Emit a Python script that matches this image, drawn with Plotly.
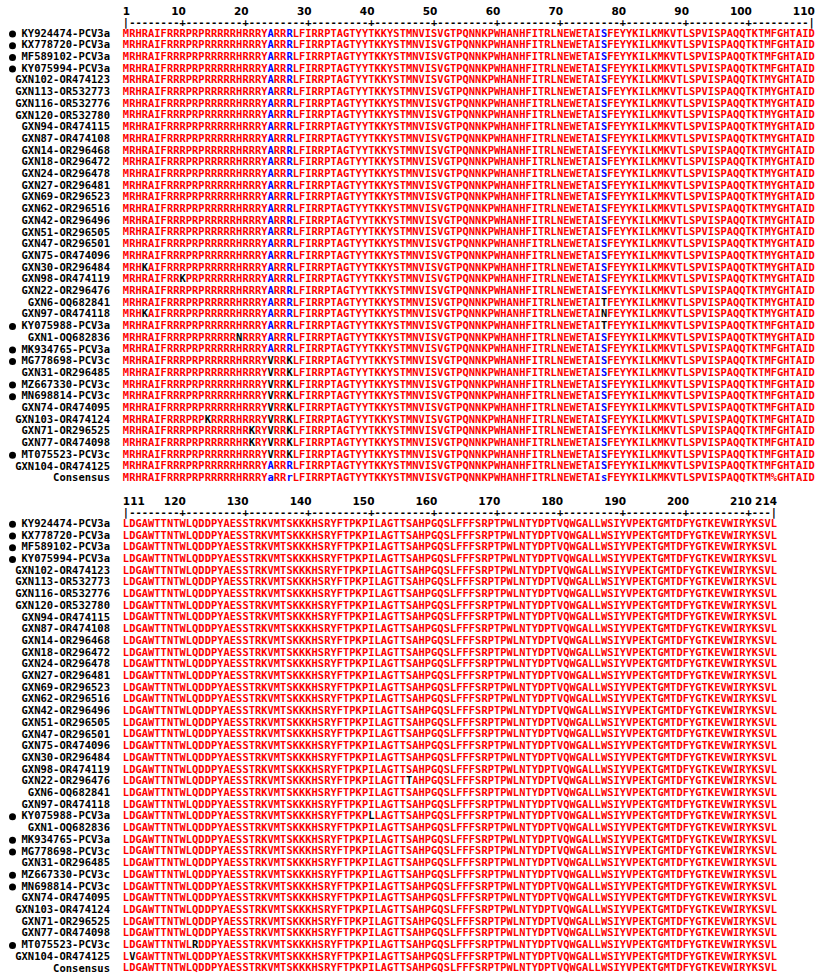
import plotly.graph_objects as go

# ---- alignment data -------------------------------------------------------
STRAINS = [
    "KY924474-PCV3a", "KX778720-PCV3a", "MF589102-PCV3a", "KY075994-PCV3a",
    "GXN102-OR474123", "GXN113-OR532773", "GXN116-OR532776", "GXN120-OR532780",
    "GXN94-OR474115", "GXN87-OR474108", "GXN14-OR296468", "GXN18-OR296472",
    "GXN24-OR296478", "GXN27-OR296481", "GXN69-OR296523", "GXN62-OR296516",
    "GXN42-OR296496", "GXN51-OR296505", "GXN47-OR296501", "GXN75-OR474096",
    "GXN30-OR296484", "GXN98-OR474119", "GXN22-OR296476", "GXN6-OQ682841",
    "GXN97-OR474118", "KY075988-PCV3a", "GXN1-OQ682836", "MK934765-PCV3a",
    "MG778698-PCV3c", "GXN31-OR296485", "MZ667330-PCV3c", "MN698814-PCV3c",
    "GXN74-OR474095", "GXN103-OR474124", "GXN71-OR296525", "GXN77-OR474098",
    "MT075523-PCV3c", "GXN104-OR474125",
]

# GenBank reference strains are flagged with a bullet
REFERENCE_STRAINS = [
    "KY924474-PCV3a", "KX778720-PCV3a", "MF589102-PCV3a", "KY075994-PCV3a",
    "KY075988-PCV3a", "MK934765-PCV3a", "MG778698-PCV3c", "MZ667330-PCV3c",
    "MN698814-PCV3c", "MT075523-PCV3c",
]

# consensus line (lowercase = low consensus, % = F or Y)
CONSENSUS_1_110 = ("MRHRAIFRRRPRPRRRRRHRRRYaRRrLFIRRPTAGTYYTKKYSTMNVISVGTPQNNKPW"
                   "HANHFITRLNEWETAIsFEYYKILKMKVTLSPVISPAQQTKTM%GHTAID")
CONSENSUS_111_214 = ("LDGAWTTNTWLQDDPYAESSTRKVMTSKKKHSRYFTPKPILAGTTSAHPGQSLFFFSRPTP"
                     "WLNTYDPTVQWGALLWSIYVPEKTGMTDFYGTKEVWIRYKSVL")

# residues that differ from the F104 backbone, per strain
SUBSTITUTIONS = {
    "GXN102-OR474123": {104: "Y"}, "GXN113-OR532773": {104: "Y"},
    "GXN116-OR532776": {104: "Y"}, "GXN120-OR532780": {104: "Y"},
    "GXN94-OR474115": {104: "Y"}, "GXN87-OR474108": {104: "Y"},
    "GXN14-OR296468": {104: "Y"}, "GXN18-OR296472": {104: "Y"},
    "GXN24-OR296478": {104: "Y"}, "GXN27-OR296481": {104: "Y"},
    "GXN69-OR296523": {104: "Y"}, "GXN62-OR296516": {104: "Y"},
    "GXN42-OR296496": {104: "Y"}, "GXN51-OR296505": {104: "Y"},
    "GXN47-OR296501": {104: "Y"}, "GXN75-OR474096": {104: "Y"},
    "GXN30-OR296484": {4: "K", 104: "Y"},
    "GXN98-OR474119": {10: "K", 104: "Y"},
    "GXN22-OR296476": {104: "Y", 156: "T"},
    "GXN6-OQ682841": {77: "T", 104: "Y"},
    "GXN97-OR474118": {4: "K", 77: "N", 104: "Y"},
    "KY075988-PCV3a": {77: "T", 150: "L"},
    "GXN1-OQ682836": {19: "N", 104: "Y"},
    "MG778698-PCV3c": {24: "V", 27: "K"},
    "GXN31-OR296485": {24: "V", 27: "K"},
    "MZ667330-PCV3c": {24: "V", 27: "K"},
    "MN698814-PCV3c": {24: "V", 27: "K"},
    "GXN74-OR474095": {24: "V", 27: "K"},
    "GXN103-OR474124": {14: "K", 24: "V", 27: "K"},
    "GXN71-OR296525": {21: "K", 24: "V", 27: "K"},
    "GXN77-OR474098": {21: "K", 24: "V", 27: "K"},
    "MT075523-PCV3c": {24: "V", 27: "K", 122: "R"},
    "GXN104-OR474125": {112: "V"},
}

BLOCKS = [(1, CONSENSUS_1_110), (111, CONSENSUS_111_214)]
TICK_EVERY = 10

# ---- styling --------------------------------------------------------------
RED, BLUE, BLACK = "#ff0000", "#0000ff", "#000000"
MONO = "DejaVu Sans Mono"
W, H = 818, 976
CHAR_PX = 6.29          # horizontal pitch of one residue
FIRST_COL_PX = 126      # centre of the first residue column
ROW_PX = 11.7           # vertical pitch of one row
LABEL_RIGHT_PX = 110
BULLET_PX = 12.5
SEQ_SIZE = 10.4
LABEL_SIZE = 10.5
NUM_SIZE = 10.5

CONSENSUS_FULL = CONSENSUS_1_110 + CONSENSUS_111_214


def backbone(pos):
    c = CONSENSUS_FULL[pos - 1]
    return "F" if c == "%" else c.upper()


def residue_colour(res, cons):
    if cons == "%":
        return RED if res in "FY" else BLACK
    if res == cons.upper():
        return BLUE if cons.islower() else RED
    return BLACK


fig = go.Figure()
n_rows = len(STRAINS) + 1
domains = [(0.5, 1.0, 34.0), (0.0, 0.5, 524.3)]  # paper domain and first-row pixel

for b, (start, cons) in enumerate(BLOCKS):
    xa = "x" if b == 0 else f"x{b + 1}"
    ya = "y" if b == 0 else f"y{b + 1}"
    end = start + len(cons) - 1
    positions = list(range(start, end + 1))

    groups = {RED: ([], [], []), BLUE: ([], [], []), BLACK: ([], [], [])}
    for r, name in enumerate(STRAINS, start=1):
        subs = SUBSTITUTIONS.get(name, {})
        for p in positions:
            res = subs.get(p, backbone(p))
            col = residue_colour(res, CONSENSUS_FULL[p - 1])
            g = groups[col]
            g[0].append(p); g[1].append(r); g[2].append(res)
    for p in positions:
        c = CONSENSUS_FULL[p - 1]
        col = BLUE if c.islower() else RED
        g = groups[col]
        g[0].append(p); g[1].append(n_rows); g[2].append(c)

    for col, (xs, ys, ts) in groups.items():
        if not xs:
            continue
        fig.add_trace(go.Scatter(
            x=xs, y=ys, text=ts, mode="text", xaxis=xa, yaxis=ya,
            textfont=dict(family=MONO, size=SEQ_SIZE, color=col, weight="bold"),
            textposition="middle center", hoverinfo="skip", showlegend=False))

    # ruler line
    ruler = []
    for p in positions:
        if p == start or p == end:
            ruler.append("|")
        elif p % TICK_EVERY == 0:
            ruler.append("+")
        else:
            ruler.append("-")
    fig.add_trace(go.Scatter(
        x=positions, y=[0.1] * len(positions), text=ruler, mode="text",
        xaxis=xa, yaxis=ya,
        textfont=dict(family=MONO, size=SEQ_SIZE, color=BLACK, weight="bold"),
        textposition="middle center", hoverinfo="skip", showlegend=False))

    # position numbers
    nums = [start] + [p for p in positions if p % TICK_EVERY == 0 and p != start]
    if end not in nums:
        nums.append(end)
    nx, npos = [], []
    for p in nums:
        if p == start:
            nx.append(p - 0.5); npos.append("middle right")
        else:
            nx.append(p + 0.5); npos.append("middle left")
    fig.add_trace(go.Scatter(
        x=nx, y=[-0.85] * len(nums), text=[str(p) for p in nums], mode="text",
        xaxis=xa, yaxis=ya, textposition=npos,
        textfont=dict(family="DejaVu Sans", size=NUM_SIZE, color=BLACK, weight="bold"),
        hoverinfo="skip", showlegend=False))

    # sequence names
    label_x = start + (LABEL_RIGHT_PX - FIRST_COL_PX) / CHAR_PX
    fig.add_trace(go.Scatter(
        x=[label_x] * n_rows, y=list(range(1, n_rows + 1)),
        text=STRAINS + ["Consensus"], mode="text", xaxis=xa, yaxis=ya,
        textposition="middle left",
        textfont=dict(family=MONO, size=LABEL_SIZE, color=BLACK, weight="bold"),
        hoverinfo="skip", showlegend=False))

    # bullets for reference strains
    bullet_x = start + (BULLET_PX - FIRST_COL_PX) / CHAR_PX
    by = [STRAINS.index(s) + 1 for s in REFERENCE_STRAINS]
    fig.add_trace(go.Scatter(
        x=[bullet_x] * len(by), y=by, mode="markers", xaxis=xa, yaxis=ya,
        marker=dict(symbol="circle", size=7, color=BLACK),
        hoverinfo="skip", showlegend=False))

    # axis geometry
    d0, d1, first_px = domains[b]
    top_px = (1 - d1) * H
    bot_px = (1 - d0) * H
    x_lo = start - FIRST_COL_PX / CHAR_PX
    x_hi = start + (W - FIRST_COL_PX) / CHAR_PX
    y_top = 1 + (top_px - first_px) / ROW_PX
    y_bot = 1 + (bot_px - first_px) / ROW_PX
    axis_common = dict(visible=False, showgrid=False, zeroline=False, fixedrange=True)
    fig.layout[("xaxis" if b == 0 else f"xaxis{b + 1}")] = dict(
        range=[x_lo, x_hi], domain=[0, 1], anchor=ya, **axis_common)
    fig.layout[("yaxis" if b == 0 else f"yaxis{b + 1}")] = dict(
        range=[y_bot, y_top], domain=[d0, d1], anchor=xa, **axis_common)

fig.update_layout(
    width=W, height=H, margin=dict(l=0, r=0, t=0, b=0),
    paper_bgcolor="white", plot_bgcolor="white", showlegend=False)

fig.write_html("out.html", config={"displayModeBar": False})
